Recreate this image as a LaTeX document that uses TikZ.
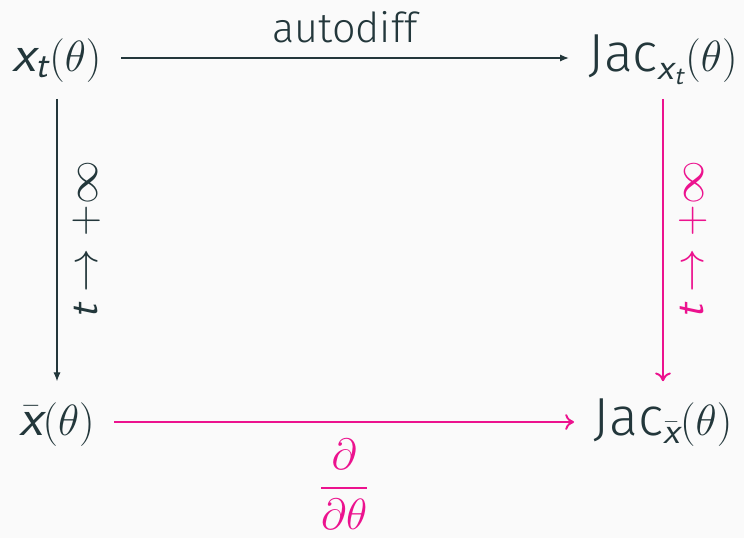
\documentclass[tikz,border=0pt]{standalone}
\usepackage{amsmath}
\usepackage{fontspec}
\setmainfont{Fira Sans}[UprightFont={* Light}, ItalicFont={* Light Italic}]
\usepackage{tikz}
\usetikzlibrary{arrows.meta}
\definecolor{darktext}{HTML}{23373B}
\definecolor{hot}{HTML}{EC128E}
\definecolor{bgpage}{HTML}{FAFAFA}
\tikzset{
    ->,
    obj/.style={inner xsep=11pt, inner ysep=8pt, text height=22.5pt, text depth=7.5pt, text=darktext},
    plain arrow/.style={draw=darktext, line width=0.6pt, -{Latex[length=5pt,width=4pt]}},
    hot arrow/.style={draw=hot, line width=1.1pt, -{To[length=5pt,width=9pt]}},
    side label/.style={rotate=90, anchor=north, inner sep=8.5pt, font=\fontsize{24}{28}\selectfont},
    hot label/.style={text=hot}
}
\newcommand{\vx}{\text{\sffamily\itshape x}}
\newcommand{\vt}{\text{\sffamily\itshape t}}

\begin{document}
\begin{tikzpicture}[x=0.02cm,y=-0.02cm,font=\fontsize{30.5}{34}\selectfont]
    \fill[bgpage] (0,0) rectangle (744,538);
    \useasboundingbox (0,0) rectangle (744,538);
    \node[obj] (xt) at (57,58) {$\vx_{\vt}(\theta)$};
    \node[obj] (jt) at (663,58) {$\mathrm{Jac}_{\vx_{\vt}}(\theta)$};
    \node[obj] (xb) at (57,422) {$\bar{\vx}(\theta)$};
    \node[obj] (jb) at (663,422) {$\mathrm{Jac}_{\bar{\vx}}(\theta)$};

    \draw[plain arrow] (xt) to node [above=5pt, text=darktext, font=\fontsize{23.5}{27}\selectfont] {autodiff} (jt);
    \draw[plain arrow] (xt) to node [side label, text=darktext] {$\vt\to+\infty$} (xb);
    \draw[hot arrow] (jt) to node [side label, hot label] {$\vt\to+\infty$} (jb);
    \draw[hot arrow] (xb) to node [below=6pt, hot label, font=\fontsize{29}{33}\selectfont] {$\dfrac{\partial}{\partial\theta}$} (jb);
\end{tikzpicture}
\end{document}
